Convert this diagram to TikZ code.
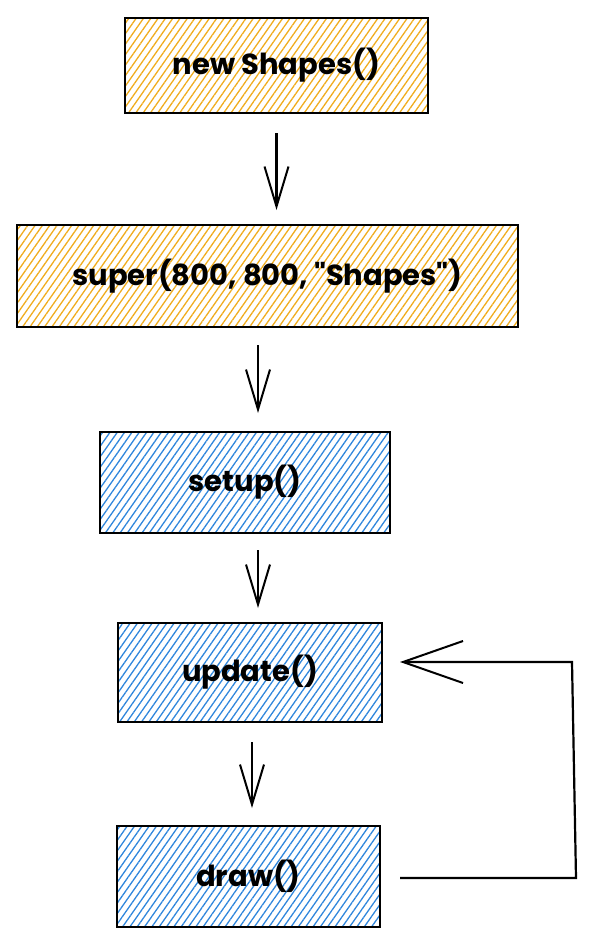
\documentclass[tikz,border=0pt]{standalone}
\usepackage{fontspec}
\newfontfamily\pop{Poppins}
\usetikzlibrary{patterns.meta,arrows.meta,calc}
\definecolor{hatchO}{HTML}{F0AC1E}
\definecolor{hatchB}{HTML}{2F86DC}
\tikzset{
  box/.style={draw=black, line width=2.4pt, inner sep=0pt, outer sep=0pt,
    font=\pop\fontsize{29}{34}\selectfont\bfseries},
  obox/.style={box, pattern={Lines[angle=55,distance=6pt,line width=1.3pt]}, pattern color=hatchO},
  bbox/.style={box, pattern={Lines[angle=55,distance=6pt,line width=1.3pt]}, pattern color=hatchB},
  arr/.style={line width=2.2pt, -{Straight Barb[length=40pt,width=24pt,line width=2pt]}},
  looparr/.style={line width=2.2pt, -{Straight Barb[length=60pt,width=42pt,line width=2pt]}}
}
\begin{document}
\begin{tikzpicture}[x=1pt,y=-1pt]
\useasboundingbox (0,0) rectangle (598,945);
\node[obox, minimum width=303pt, minimum height=95pt] (b1) at (276.5,65.5) {new Shapes()};
\node[obox, minimum width=501pt, minimum height=102pt] (b2) at (267.5,276) {super(800, 800, "Shapes")};
\node[bbox, minimum width=290pt, minimum height=101pt] (b3) at (245,482.5) {setup()};
\node[bbox, minimum width=264pt, minimum height=99pt] (b4) at (250,672.5) {update()};
\node[bbox, minimum width=263pt, minimum height=101pt] (b5) at (248.5,876.5) {draw()};
\draw[arr] ($(b1.south)+(0,20)$) -- ($(b2.north)+(9,-15)$);
\draw[arr] ($(b2.south)+(-9.5,18)$) -- ($(b3.north)+(13,-19)$);
\draw[arr] ($(b3.south)+(13,17)$) -- ($(b4.north)+(8,-15)$);
\draw[arr] ($(b4.south)+(2,20)$) -- ($(b5.north)+(3.5,-18)$);
\coordinate (c1) at (576,878);
\coordinate (c2) at (572,662);
\draw[looparr] ($(b5.east)+(20,1.5)$) -- (c1) -- (c2) -- ($(b4.east)+(18,-10.5)$);
\end{tikzpicture}
\end{document}
